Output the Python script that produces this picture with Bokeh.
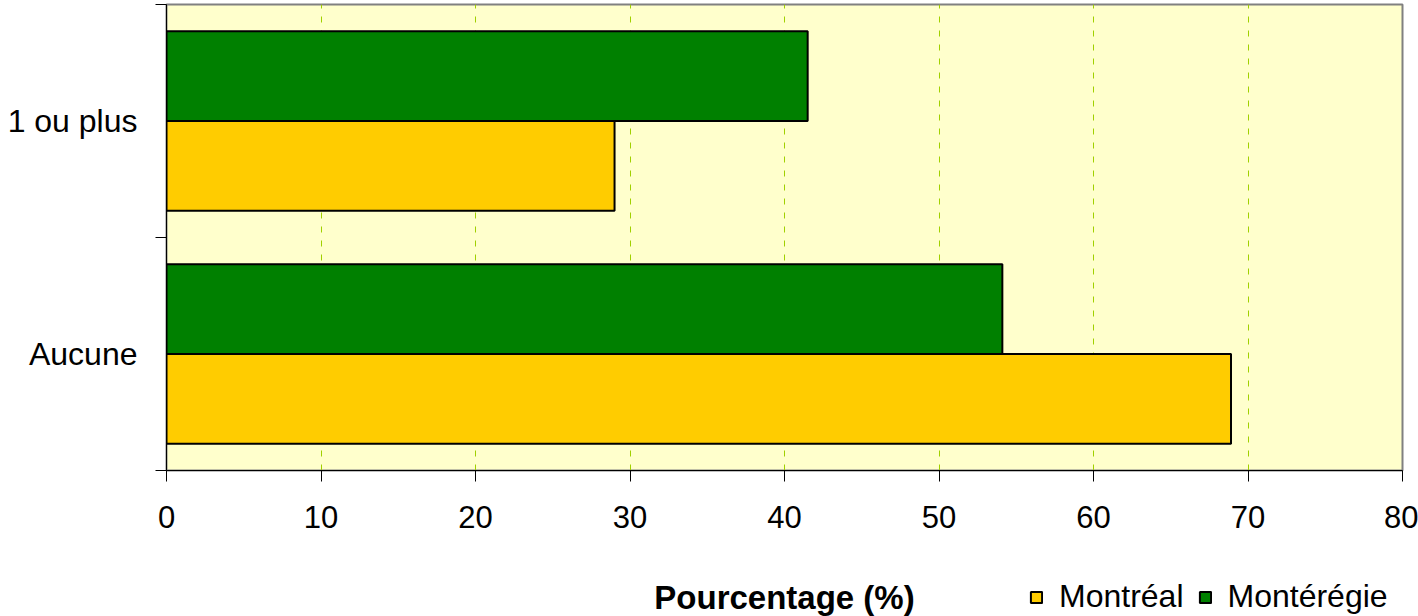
from bokeh.plotting import figure
from bokeh.models import (Range1d, FixedTicker, Legend, LegendItem, ColumnDataSource,
                          Label)
from bokeh.layouts import column
from bokeh.embed import file_html
from bokeh.resources import INLINE

# ---- data ----
categories = ["Aucune", "1 ou plus"]
montreal = [68.9, 29.0]
monteregie = [54.1, 41.5]
x_ticks = [0, 10, 20, 30, 40, 50, 60, 70, 80]
series_names = ["Montréal", "Montérégie"]
series_colors = ["#FFCC00", "#008000"]
x_title = "Pourcentage (%)"

font = "Liberation Sans"
bar_h = 0.385
centers = [i + 0.5 for i in range(len(categories))]

# ---- main chart ----
p = figure(width=1418, height=576, output_backend="svg", toolbar_location=None,
           x_range=Range1d(0, 80), y_range=Range1d(0, len(categories)),
           min_border_left=166, min_border_right=16, min_border_top=4,
           min_border_bottom=106)

p.background_fill_color = "#FFFFCC"
p.border_fill_color = "white"
p.outline_line_color = "#808080"
p.outline_line_width = 2

src_mtl = ColumnDataSource(dict(y=[c - bar_h / 2 for c in centers], right=montreal))
src_mtg = ColumnDataSource(dict(y=[c + bar_h / 2 for c in centers], right=monteregie))

p.hbar(y="y", left=0, right="right", height=bar_h, source=src_mtl,
       fill_color=series_colors[0], line_color="black", line_width=2)
p.hbar(y="y", left=0, right="right", height=bar_h, source=src_mtg,
       fill_color=series_colors[1], line_color="black", line_width=2)

p.ygrid.grid_line_color = None
p.xgrid.ticker = FixedTicker(ticks=x_ticks[1:-1])
p.xgrid.grid_line_color = "#A0D000"
p.xgrid.grid_line_dash = "6 8"
p.xgrid.grid_line_width = 1

xa = p.xaxis[0]
xa.ticker = FixedTicker(ticks=x_ticks)
xa.axis_line_color = "black"
xa.major_tick_line_color = "black"
xa.major_tick_out = 11
xa.major_tick_in = 0
xa.minor_tick_line_color = None
xa.major_label_text_font = font
xa.major_label_text_font_size = "31px"
xa.major_label_text_color = "black"
xa.major_label_standoff = 24

ya = p.yaxis[0]
ya.ticker = FixedTicker(ticks=centers, minor_ticks=[0, 1, 2])
ya.major_label_overrides = {c: cat for c, cat in zip(centers, categories)}
ya.axis_line_color = "black"
ya.major_tick_line_color = None
ya.major_tick_out = 11
ya.major_tick_in = 0
ya.minor_tick_line_color = "black"
ya.minor_tick_out = 11
ya.minor_tick_in = 0
ya.major_label_text_font = font
ya.major_label_text_font_size = "32px"
ya.major_label_text_color = "black"
ya.major_label_standoff = 18

# ---- bottom strip: axis title + legend (frame aligned with the chart's frame) ----
p2 = figure(width=1418, height=40, output_backend="svg", toolbar_location=None,
            x_range=Range1d(0, 80), y_range=Range1d(10, 20),
            x_axis_location=None, y_axis_location=None,
            min_border_left=166, min_border_right=16, min_border_top=0,
            min_border_bottom=0)
p2.grid.visible = False
p2.outline_line_color = None
p2.background_fill_color = "white"
p2.border_fill_color = "white"

p2.add_layout(Label(x=618, y=19, x_units="screen", y_units="screen", text=x_title,
                    text_align="center", text_baseline="middle", text_font=font,
                    text_font_size="33px", text_font_style="bold",
                    text_color="black"))

# legend swatches share the chart data; the renderers themselves are hidden
l_mtl = p2.hbar(y="y", left=0, right="right", height=bar_h, source=src_mtl,
                fill_color=series_colors[0], line_color="black", line_width=2)
l_mtg = p2.hbar(y="y", left=0, right="right", height=bar_h, source=src_mtg,
                fill_color=series_colors[1], line_color="black", line_width=2)
l_mtl.visible = False
l_mtg.visible = False

legend = Legend(items=[LegendItem(label=series_names[0], renderers=[l_mtl]),
                       LegendItem(label=series_names[1], renderers=[l_mtg])],
                orientation="horizontal", location=(863, 1),
                glyph_width=14, glyph_height=14, label_standoff=16, spacing=14,
                padding=0, margin=0, inactive_fill_alpha=0,
                label_text_font=font, label_text_font_size="32px",
                label_text_color="black",
                background_fill_alpha=0, border_line_color=None)
p2.add_layout(legend, "center")

layout = column(p, p2, spacing=0)
open("out.html", "w").write(file_html(layout, INLINE))
